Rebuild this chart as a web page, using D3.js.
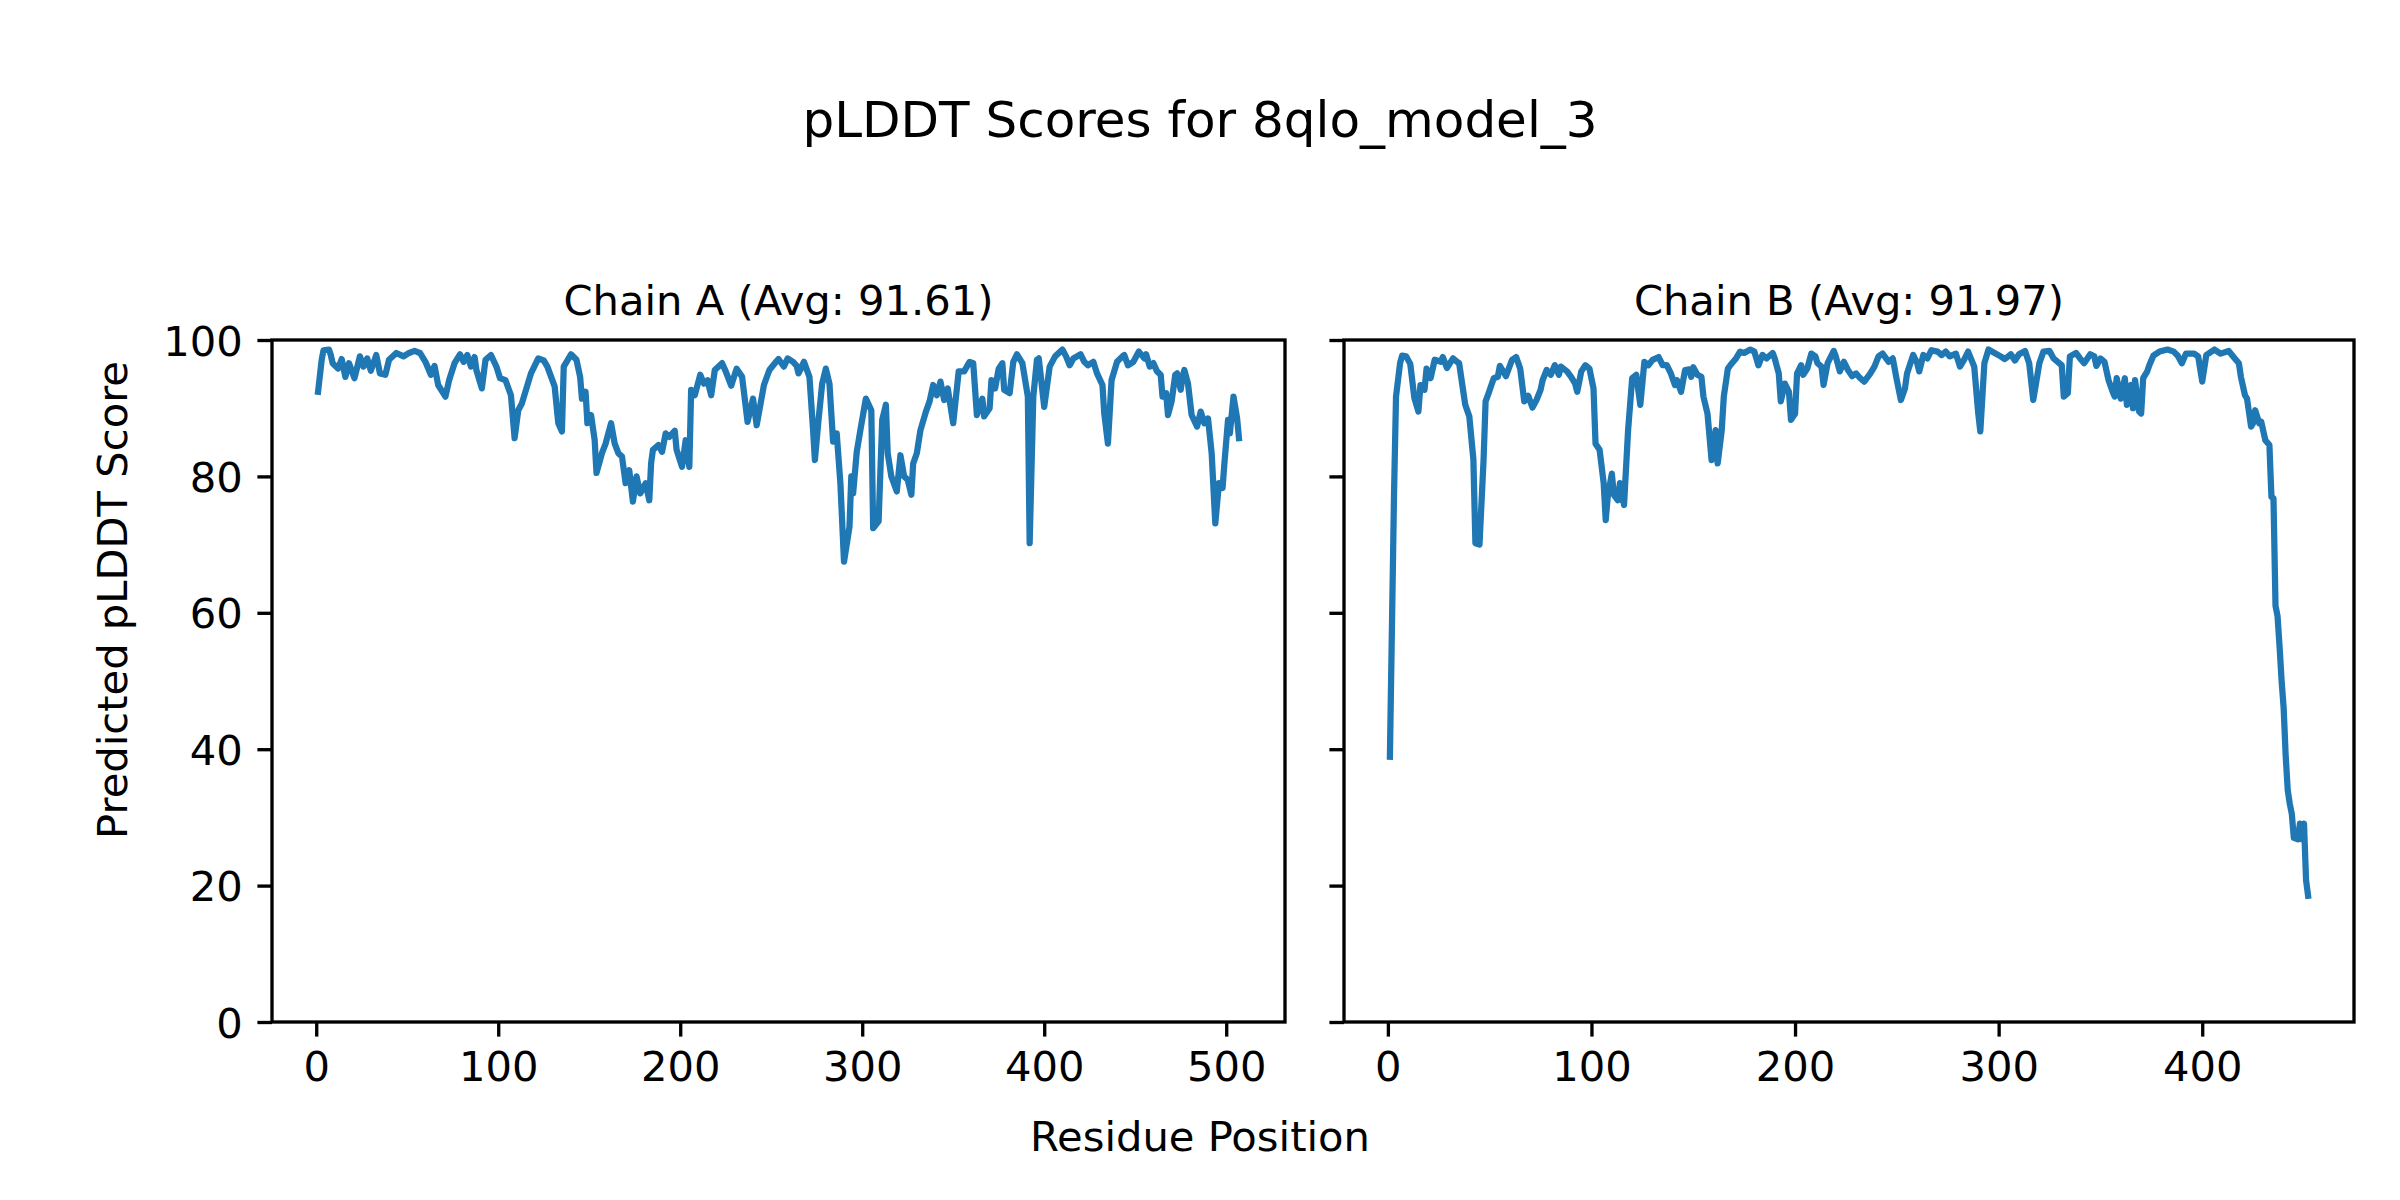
<!DOCTYPE html>
<html>
<head>
<meta charset="utf-8">
<script src="https://cdn.jsdelivr.net/npm/d3@7.9.0/dist/d3.min.js"></script>
<style>
  body { margin: 0; background: #fff; }
  svg { display: block; font-family: 'DejaVu Sans', sans-serif; }
</style>
</head>
<body>
<svg id="chart" width="2400" height="1200"></svg>
<script>
// values
const chainAResidues = [1,3,4,7,8,9,12,14,16,18,21,24,26,28,30,33,35,38,40,44,48,51,54,57,60,63,65,67,71,73,76,79,81,83,85,87,88,91,93,96,99,101,104,107,109,111,113,118,122,125,127,131,133,135,136,140,143,145,146,148,149,151,153,154,157,159,162,164,166,168,170,172,174,176,178,181,183,184,185,188,190,192,194,197,198,201,203,205,206,208,211,213,215,217,219,223,225,228,231,234,237,240,242,246,249,252,254,257,259,262,264,265,268,271,273,274,276,278,280,282,284,286,288,290,293,294,295,297,299,302,305,306,309,311,313,314,316,319,321,323,325,327,328,330,332,335,337,339,341,343,345,347,350,353,356,359,361,363,366,367,370,371,373,375,377,378,381,383,385,388,391,392,394,396,397,400,403,406,410,412,414,416,420,422,424,427,429,432,433,435,437,440,443,444,446,449,452,455,456,458,460,462,464,465,467,468,470,472,473,475,476,477,479,481,484,486,488,490,492,494,496,498,499,501,502,504,506,507];
const chainAScores = [92.4,97.1,98.5,98.6,97.8,96.6,95.8,97.2,94.6,96.6,94.4,97.6,96.1,97.3,95.5,97.8,95.1,94.9,97.1,98.1,97.6,98.1,98.4,98.1,96.8,94.9,96.2,93.4,91.7,94.1,96.6,97.9,96.8,97.8,96.1,97.5,95.6,92.9,97.1,97.8,96.1,94.4,94.1,91.9,85.6,89.7,90.7,95.1,97.3,97.0,96.1,93.2,87.8,86.6,96.1,97.9,97.1,94.6,91.4,92.4,87.8,89.0,85.3,80.5,83.4,84.8,87.8,84.8,83.4,82.9,79.0,80.9,76.3,80.0,77.5,79.0,76.5,81.9,83.9,84.6,83.6,86.3,85.8,86.7,83.9,81.4,85.3,81.4,92.7,91.9,94.9,93.6,94.1,91.9,95.6,96.6,95.4,93.3,95.8,94.6,88.0,91.4,87.5,93.4,95.6,96.6,97.2,96.1,97.3,96.8,96.2,95.1,96.8,94.6,86.8,82.4,88.3,93.6,95.8,93.6,85.1,86.3,79.0,67.5,72.6,80.0,77.5,83.6,86.8,91.4,89.7,72.4,73.4,88.3,90.5,83.4,80.0,77.8,83.1,80.0,79.5,77.3,81.9,83.4,86.8,89.5,91.0,93.4,91.9,93.9,91.2,92.9,87.8,95.4,95.4,96.8,96.6,89.0,91.4,88.8,90.0,94.1,92.9,95.8,96.6,92.7,92.2,96.8,97.9,96.6,91.7,70.2,91.7,97.1,97.3,90.2,96.1,97.6,98.6,97.6,96.3,97.3,97.9,96.8,96.3,96.8,95.1,93.4,89.2,84.8,94.1,96.8,97.6,97.8,96.3,96.8,98.3,97.3,97.9,96.1,96.6,95.4,94.9,91.7,92.2,89.0,91.0,94.9,95.1,92.7,94.6,95.6,93.6,89.0,87.3,89.5,87.8,88.5,83.4,73.1,79.0,78.3,81.9,88.3,86.3,91.7,88.5,85.6];

const chainBResidues = [1,3,4,6,7,9,11,13,15,16,18,19,21,23,26,27,29,32,34,35,38,40,42,43,45,47,48,49,52,54,55,58,61,63,65,67,69,71,73,75,76,78,80,82,84,85,88,90,92,93,95,97,99,101,102,104,106,107,108,110,111,113,114,116,118,120,122,124,126,128,130,133,135,137,139,141,142,144,146,148,149,150,152,154,155,157,159,161,162,164,165,167,169,171,173,175,178,180,182,184,186,189,190,192,193,195,197,198,200,201,203,204,206,208,210,211,213,214,216,219,220,222,224,226,228,230,232,234,237,239,241,243,246,248,250,252,254,255,258,260,261,263,265,267,270,272,274,276,279,281,283,285,288,290,291,293,295,298,301,303,306,308,310,313,315,317,320,322,325,327,329,331,332,334,335,338,340,342,345,347,348,350,352,354,356,357,358,360,362,363,365,366,367,369,370,371,373,374,376,379,383,386,388,390,392,396,398,400,402,406,409,413,416,418,419,421,422,424,425,426,428,429,431,433,434,435,436,437,438,439,440,441,442,443,444,445,447,448,449,450,451,452];
const chainBScores = [38.9,77.0,91.7,96.6,97.7,97.6,96.5,91.5,89.5,93.4,92.7,95.8,94.4,97.1,96.8,97.5,95.9,97.3,96.8,96.6,90.5,88.8,82.5,70.2,70.0,82.4,91.0,91.8,94.4,94.6,96.2,94.7,97.1,97.5,95.8,91.0,91.8,90.1,91.2,92.7,94.1,95.6,94.9,96.3,94.9,96.1,95.4,94.6,93.6,92.4,95.4,96.3,95.8,92.9,84.8,83.9,79.0,73.6,77.0,80.4,77.3,76.5,79.0,75.8,86.8,94.4,94.9,90.5,96.8,96.3,97.1,97.5,96.3,96.3,95.1,93.4,94.1,92.4,95.6,95.7,94.6,96.0,94.9,94.6,91.7,89.2,82.4,86.8,81.9,86.8,91.7,95.8,96.6,97.3,98.3,98.1,98.6,98.3,96.3,97.8,97.3,98.1,97.3,95.1,91.0,93.6,92.4,88.3,89.2,95.1,96.3,94.9,95.8,98.0,97.6,96.6,96.1,93.4,96.6,98.4,97.6,95.4,96.8,95.6,94.7,95.1,94.4,93.9,95.1,96.1,97.6,98.0,96.8,97.3,94.1,91.2,92.9,95.1,97.8,96.6,95.4,97.8,97.3,98.5,98.3,97.8,98.3,97.6,98.0,96.1,97.1,98.3,96.1,89.2,86.6,96.6,98.6,98.1,97.6,97.2,97.9,97.0,97.9,98.4,96.6,91.2,96.6,98.3,98.4,97.3,96.8,96.3,91.7,92.2,97.6,98.1,97.3,96.6,97.9,97.6,96.2,97.3,96.8,94.1,92.4,91.7,94.4,91.4,94.4,90.5,93.4,90.0,94.1,89.5,89.2,94.4,95.4,96.3,97.7,98.3,98.6,98.3,97.7,96.6,98.0,98.0,97.6,93.9,97.8,98.6,98.0,98.4,97.3,96.6,94.6,91.9,91.4,87.3,87.8,89.7,87.8,88.0,85.3,84.6,77.0,76.8,61.0,59.5,55.0,50.0,46.0,39.0,34.0,32.0,30.5,27.0,26.8,29.1,26.8,29.1,20.8,18.5];

const chainTitles = ['Chain A (Avg: 91.61)', 'Chain B (Avg: 91.97)'];
const yTicks = [0, 20, 40, 60, 80, 100];
const xTicksA = [0, 100, 200, 300, 400, 500];
const xTicksB = [0, 100, 200, 300, 400];

const svg = d3.select('#chart');
const W = 2400, H = 1200;
const fs = 41.67;      // 10pt at 300 dpi
const lw = 3.33;       // 0.8pt spines / ticks
const plotTop = 340, plotBottom = 1022;

svg.append('rect').attr('width', W).attr('height', H).attr('fill', '#fff');

const panels = [
  { left: 272, right: 1285, res: chainAResidues, val: chainAScores, title: chainTitles[0], xTicks: xTicksA, yLabels: true },
  { left: 1344, right: 2354, res: chainBResidues, val: chainBScores, title: chainTitles[1], xTicks: xTicksB, yLabels: false }
];

const y = d3.scaleLinear().domain([0, 100]).range([plotBottom, plotTop]);

panels.forEach(p => {
  // matplotlib style 5% margins on x
  const [lo, hi] = d3.extent(p.res);
  const pad = (hi - lo) * 0.05;
  const x = d3.scaleLinear().domain([lo - pad, hi + pad]).range([p.left, p.right]);

  const pts = p.res.map((r, i) => [r, p.val[i]]);
  const line = d3.line().x(d => x(d[0])).y(d => y(d[1]));

  svg.append('path')
    .datum(pts)
    .attr('d', line)
    .attr('fill', 'none')
    .attr('stroke', '#1f77b4')
    .attr('stroke-width', 6.25)
    .attr('stroke-linejoin', 'round')
    .attr('stroke-linecap', 'square');

  // x axis
  const gx = svg.append('g')
    .attr('transform', `translate(0,${plotBottom})`)
    .call(d3.axisBottom(x).tickValues(p.xTicks).tickSize(14.6).tickPadding(14.6).tickSizeOuter(0));
  gx.select('.domain').remove();

  // y axis
  const ya = d3.axisLeft(y).tickValues(yTicks).tickSize(14.6).tickPadding(14.6).tickSizeOuter(0);
  if (!p.yLabels) ya.tickFormat('');
  const gy = svg.append('g')
    .attr('transform', `translate(${p.left},0)`)
    .call(ya);
  gy.select('.domain').remove();

  [gx, gy].forEach(g => {
    g.selectAll('line').attr('stroke', '#000').attr('stroke-width', lw);
    g.selectAll('text').attr('fill', '#000').style('font-size', fs + 'px').style('font-family', "'DejaVu Sans', sans-serif");
  });
  gy.selectAll('text').attr('dy', '0.36em');

  // spines
  svg.append('rect')
    .attr('x', p.left).attr('y', plotTop)
    .attr('width', p.right - p.left).attr('height', plotBottom - plotTop)
    .attr('fill', 'none').attr('stroke', '#000').attr('stroke-width', lw);

  svg.append('text')
    .attr('x', (p.left + p.right) / 2).attr('y', 315)
    .attr('text-anchor', 'middle')
    .style('font-size', fs + 'px')
    .text(p.title);
});

// figure level labels
svg.append('text')
  .attr('x', W / 2).attr('y', 137)
  .attr('text-anchor', 'middle')
  .style('font-size', '50px')
  .text('pLDDT Scores for 8qlo_model_3');

svg.append('text')
  .attr('x', W / 2).attr('y', 1151)
  .attr('text-anchor', 'middle')
  .style('font-size', fs + 'px')
  .text('Residue Position');

svg.append('text')
  .attr('transform', 'translate(127,600) rotate(-90)')
  .attr('text-anchor', 'middle')
  .style('font-size', fs + 'px')
  .text('Predicted pLDDT Score');
</script>
</body>
</html>
